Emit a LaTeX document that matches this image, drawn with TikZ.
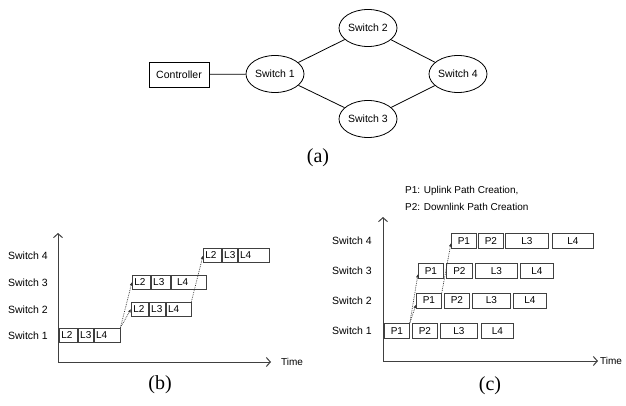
\documentclass[tikz,border=0pt]{standalone}
\usepackage{fontspec}
\setmainfont{Liberation Sans}
\newfontfamily\capfont{Liberation Serif}
\usetikzlibrary{arrows.meta,shapes.geometric,calc}

\tikzset{
  sw/.style={ellipse, draw, line width=0.8pt, minimum width=58pt, minimum height=37pt,
             inner sep=0pt, font=\fontsize{10.5}{12}\selectfont},
  ctrlbox/.style={draw, line width=0.8pt, minimum width=60pt, minimum height=25pt,
             inner sep=0pt, font=\fontsize{10.5}{12}\selectfont},
  link/.style={line width=0.8pt},
  cellb/.style={draw=black!75, line width=0.8pt, minimum height=14pt, inner ysep=0pt,
             inner xsep=2pt, anchor=west, align=left, font=\fontsize{10}{12}\selectfont},
  cellc/.style={draw=black!75, line width=0.8pt, minimum height=15pt, inner sep=0pt,
             anchor=west, font=\fontsize{10}{12}\selectfont},
  axis/.style={draw=black!75, line width=1pt, -{Straight Barb[length=4pt,width=9pt]}},
  flow/.style={black!80, dash pattern=on 0.8pt off 1pt, line width=0.7pt,
             -{Latex[length=3.5pt,width=3pt]}},
  rowlbl/.style={anchor=east, inner sep=0pt, font=\fontsize{10.5}{12}\selectfont},
  txt/.style={inner sep=0pt, font=\fontsize{10}{12}\selectfont},
  caption/.style={inner sep=0pt, font=\capfont\fontsize{20}{22}\selectfont},
}

\begin{document}
\begin{tikzpicture}[x=1pt, y={(0pt,-1pt)}]
\useasboundingbox (0,0) rectangle (626,406);

% ---- network topology ----
\node[ctrlbox] (ctrl) at (179,74.5) {Controller};
\node[sw] (s1) at (275,74) {Switch 1};
\node[sw] (s2) at (368,28) {Switch 2};
\node[sw] (s3) at (368,119) {Switch 3};
\node[sw] (s4) at (458,74) {Switch 4};
\draw[link] (ctrl) -- (s1);
\draw[link] (s1) -- (s2);
\draw[link] (s1) -- (s3);
\draw[link] (s2) -- (s4);
\draw[link] (s3) -- (s4);
\node[caption] (capa) at (318,158) {(a)};

% ---- timing without path creation ----
\coordinate (bo) at (58,362);
\coordinate (btop) at (58,233);
\coordinate (bend) at (271,362);
\draw[axis] (bo) -- (btop);
\draw[axis] (bo) -- (bend);
\node[txt, anchor=west] (btime) at (281,362) {Time};

\node[rowlbl] (bl1) at (48,336) {Switch 1};
\node[rowlbl] (bl2) at (48,310) {Switch 2};
\node[rowlbl] (bl3) at (48,283) {Switch 3};
\node[rowlbl] (bl4) at (48,255.5) {Switch 4};

% row 1
\node[cellb, text width=14pt] (b1a) at (59,335) {L2};
\node[cellb, text width=11pt] (b1b) at (b1a.east) {L3};
\node[cellb, text width=22pt] (b1c) at (b1b.east) {L4};
% row 2
\node[cellb, text width=13pt] (b2a) at (131,309) {L2};
\node[cellb, text width=12pt] (b2b) at (b2a.east) {L3};
\node[cellb, text width=21pt] (b2c) at (b2b.east) {L4};
% row 3
\node[cellb, text width=14pt] (b3a) at (132,282) {L2};
\node[cellb, text width=15pt] (b3b) at (b3a.east) {L3};
\node[cellb, text width=31pt] (b3c) at (b3b.east) {\hspace*{4pt}L4};
% row 4
\node[cellb, text width=14pt] (b4a) at (203,255.5) {L2};
\node[cellb, text width=11pt] (b4b) at (b4a.east) {L3};
\node[cellb, text width=27pt] (b4c) at (b4b.east) {L4};

\draw[flow] (b1c.north east) -- (b2a.west);
\draw[flow] (b1c.north east) -- (b3a.west);
\draw[flow] (b2c.north east) -- (b4a.west);
\node[caption] (capb) at (160,385) {(b)};

% ---- timing with path creation ----
\node[txt, anchor=west] (leg1) at (405,191) {P1: Uplink Path Creation,};
\node[txt, anchor=west] (leg2) at (405,207) {P2: Downlink Path Creation};

\coordinate (co) at (383,361);
\coordinate (ctop) at (383,217);
\coordinate (cend) at (598,361);
\draw[axis] (co) -- (ctop);
\draw[axis] (co) -- (cend);
\node[txt, anchor=west] (ctime) at (600,361) {Time};

\node[rowlbl] (cl1) at (372,331) {Switch 1};
\node[rowlbl] (cl2) at (372,301) {Switch 2};
\node[rowlbl] (cl3) at (372,271) {Switch 3};
\node[rowlbl] (cl4) at (372,241) {Switch 4};

% row 1
\node[cellc, minimum width=25pt] (c1a) at (384,331) {P1};
\node[cellc, minimum width=25pt] (c1b) at (412,331) {P2};
\node[cellc, minimum width=37pt] (c1c) at (440,331) {L3};
\node[cellc, minimum width=32pt] (c1d) at (481,331) {L4};
% row 2
\node[cellc, minimum width=25pt] (c2a) at (416,300.5) {P1};
\node[cellc, minimum width=25pt] (c2b) at (444,300.5) {P2};
\node[cellc, minimum width=38pt] (c2c) at (472,300.5) {L3};
\node[cellc, minimum width=33pt] (c2d) at (513,300.5) {L4};
% row 3
\node[cellc, minimum width=25pt] (c3a) at (418,271) {P1};
\node[cellc, minimum width=26pt] (c3b) at (446,271) {P2};
\node[cellc, minimum width=42pt] (c3c) at (475,271) {L3};
\node[cellc, minimum width=33pt] (c3d) at (520,271) {L4};
% row 4
\node[cellc, minimum width=25pt] (c4a) at (451,241) {P1};
\node[cellc, minimum width=25pt] (c4b) at (478,241) {P2};
\node[cellc, minimum width=43pt] (c4c) at (505,241) {L3};
\node[cellc, minimum width=41pt] (c4d) at (552,241) {L4};

\draw[flow] (c1a.north east) -- ([yshift=-4pt]c2a.west);
\draw[flow] (c1a.north east) -- ([yshift=-3pt]c3a.west);
\draw[flow] (c2a.north east) -- ([yshift=-2pt]c4a.west);
\node[caption] (capc) at (490,386) {(c)};
\end{tikzpicture}
\end{document}
